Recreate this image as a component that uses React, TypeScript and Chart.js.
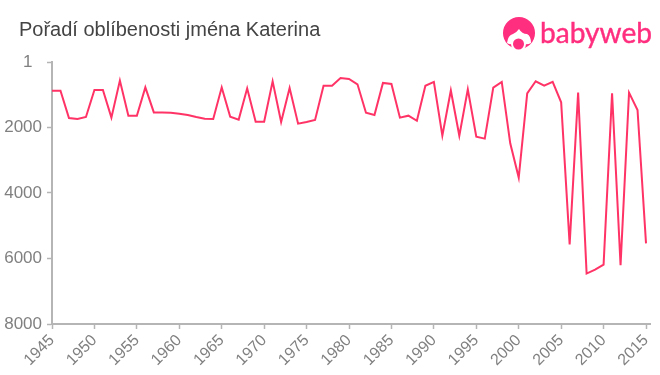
import React, { useEffect, useRef } from "react";
import { Chart, registerables } from "chart.js";

Chart.register(...registerables);

const years = [1945,1946,1947,1948,1949,1950,1951,1952,1953,1954,1955,1956,1957,1958,1959,1960,1961,1962,1963,1964,1965,1966,1967,1968,1969,1970,1971,1972,1973,1974,1975,1976,1977,1978,1979,1980,1981,1982,1983,1984,1985,1986,1987,1988,1989,1990,1991,1992,1993,1994,1995,1996,1997,1998,1999,2000,2001,2002,2003,2004,2005,2006,2007,2008,2009,2010,2011,2012,2013,2014,2015];
const ranks = [877,877,1712,1742,1681,856,856,1700,570,1640,1640,775,1540,1540,1550,1580,1620,1680,1730,1740,775,1670,1760,805,1825,1825,590,1830,795,1885,1835,1773,725,725,490,520,683,1550,1620,640,670,1700,1640,1795,725,610,2250,870,2250,835,2280,2340,785,610,2485,3530,957,590,725,610,1232,5570,937,6460,6340,6185,957,6205,937,1467,5540];
const xTicks = [1945,1950,1955,1960,1965,1970,1975,1980,1985,1990,1995,2000,2005,2010,2015];
const yTicks = [1,2000,4000,6000,8000];
const title = "Pořadí oblíbenosti jména Katerina";
const lineColor = "#ff3366";
const axisColor = "#b5b5b5";
const labelColor = "#808080";

const titleLeft = {
  id: "titleLeft",
  afterLayout(chart: any) {
    if (chart.titleBlock) chart.titleBlock.left = 19;
  },
};

export default function App() {
  const ref = useRef<HTMLCanvasElement>(null);
  useEffect(() => {
    const chart = new Chart(ref.current!, {
      type: "line",
      plugins: [titleLeft],
      data: {
        datasets: [{
          data: years.map((y, i) => ({ x: y, y: ranks[i] })),
          borderColor: lineColor,
          borderWidth: 2,
          pointRadius: 0,
          tension: 0,
          fill: false,
        }],
      },
      options: {
        responsive: false,
        animation: false,
        layout: { padding: { left: 0, right: 10, top: 0, bottom: 0 } },
        plugins: {
          legend: { display: false },
          tooltip: { enabled: false },
          title: {
            display: true,
            text: title,
            align: "start",
            color: "#444444",
            font: { family: "Liberation Sans", size: 20, weight: "normal" },
            padding: { top: 18, bottom: 20 },
          },
        },
        scales: {
          x: {
            type: "linear",
            min: 1945,
            max: 2015.47,
            afterBuildTicks: (s: any) => { s.ticks = xTicks.map((v) => ({ value: v })); },
            afterFit: (s: any) => { s.height = 51; s.paddingRight = 0; s.paddingLeft = 0; },
            border: { color: axisColor, width: 2 },
            grid: { drawOnChartArea: false, color: axisColor, tickLength: 5, tickWidth: 1.5 },
            ticks: {
              autoSkip: false,
              minRotation: 45,
              maxRotation: 45,
              padding: 2,
              color: labelColor,
              font: { family: "Liberation Sans", size: 16 },
              callback: (v: any) => String(v),
            },
          },
          y: {
            type: "linear",
            reverse: true,
            min: 1,
            max: 8000,
            afterBuildTicks: (s: any) => { s.ticks = yTicks.map((v) => ({ value: v })); },
            afterFit: (s: any) => { s.width = 52; },
            border: { color: axisColor, width: 2 },
            grid: { drawOnChartArea: false, color: axisColor, tickLength: 5, tickWidth: 1.5 },
            ticks: {
              padding: 5,
              color: labelColor,
              font: { family: "Liberation Sans", size: 17 },
              callback: (v: any) => (v === 1 ? "1  " : String(v)),
            },
          },
        },
      },
    });
    return () => chart.destroy();
  }, []);
  return (
    <div style={{ position: "absolute", left: 0, top: 0, width: 660, height: 375 }}>
      <canvas ref={ref} width={660} height={375} style={{ display: "block" }} />
      <svg width={170} height={55} viewBox="490 5 170 55" style={{ position: "absolute", left: 490, top: 5 }}>
        <circle cx={519} cy={33} r={16} fill="#ff2e7e" />
        <path d="M507 43 Q508 35 513 34 Q517 32 519 29 Q522 34 527 34 Q531 36 531 43 Q526 46 519 42 Q511 46 507 43 Z" fill="#ffffff" />
        <circle cx={518.5} cy={44} r={7.5} fill="#ffffff" />
        <circle cx={518.5} cy={44} r={5.5} fill="#ff2e7e" />
        <text x={540} y={43} fontFamily="Lato" fontSize={28} stroke="#ff2e7e" strokeWidth={0.4} fill="#ff2e7e" textLength={112} lengthAdjust="spacingAndGlyphs">babyweb</text>
      </svg>
    </div>
  );
}
